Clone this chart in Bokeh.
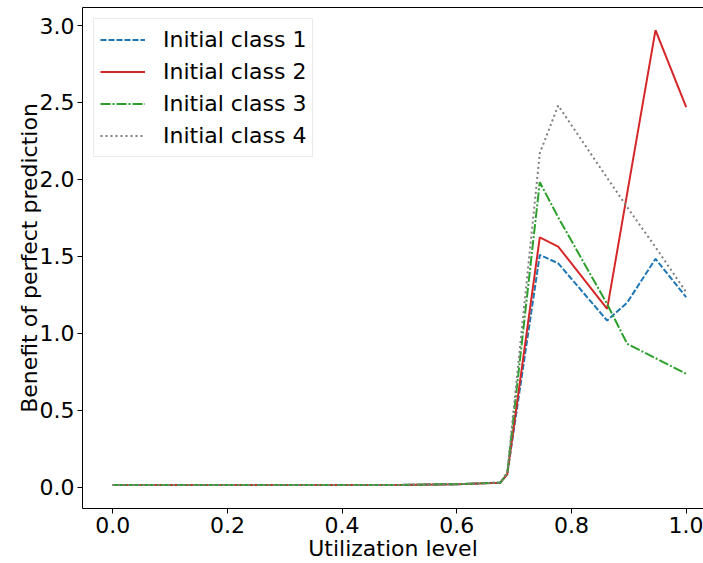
from bokeh.plotting import figure
from bokeh.models import FixedTicker, PrintfTickFormatter, LinearAxis, Range1d
from bokeh.embed import file_html
from bokeh.resources import INLINE

# Utilization levels at which the benefit was evaluated
utilization = [0.0, 0.1, 0.2, 0.3, 0.4, 0.5, 0.6, 0.676, 0.688,
               0.7447, 0.7768, 0.8622, 0.8971, 0.9465, 1.0]

# Benefit of perfect prediction for each initial class
class1 = [0.015, 0.015, 0.015, 0.015, 0.015, 0.015, 0.02, 0.03, 0.085,
          1.51, 1.455, 1.083, 1.20, 1.484, 1.235]
class2 = [0.015, 0.015, 0.015, 0.015, 0.015, 0.015, 0.02, 0.03, 0.085,
          1.624, 1.564, 1.159, 1.909, 2.97, 2.469]
class3 = [0.015, 0.015, 0.015, 0.015, 0.015, 0.015, 0.02, 0.03, 0.09,
          1.982, 1.754, 1.19, 0.932, 0.839, 0.737]
class4 = [0.015, 0.015, 0.015, 0.015, 0.015, 0.015, 0.02, 0.03, 0.10,
          2.17, 2.48, 2.01, 1.82, 1.56, 1.267]

x_ticks = [0.0, 0.2, 0.4, 0.6, 0.8, 1.0]
y_ticks = [0.0, 0.5, 1.0, 1.5, 2.0, 2.5, 3.0]

FONT = "DejaVu Sans"
SIZE = "22px"

p = figure(width=703, height=563, output_backend="svg", toolbar_location=None,
           x_range=Range1d(-0.0527, 1.0302), y_range=Range1d(-0.138, 3.117),
           min_border_left=82, min_border_right=0, min_border_top=7,
           min_border_bottom=54)
p.background_fill_color = "white"
p.border_fill_color = "white"
p.outline_line_color = None
p.xgrid.visible = False
p.ygrid.visible = False

series = [
    (class1, "Initial class 1", "#1f77b4", "6 2"),
    (class2, "Initial class 2", "#d62728", "solid"),
    (class3, "Initial class 3", "#2ca02c", "10 2 2 2"),
    (class4, "Initial class 4", "#7f7f7f", "2 3"),
]
for values, name, color, dash in series:
    p.line(utilization, values, line_color=color, line_width=2,
           line_dash=dash, legend_label=name)

bottom = p.below[0]
left = p.left[0]
for ax in (bottom, left):
    ax.axis_line_color = "black"
    ax.axis_line_width = 1
    ax.major_tick_line_color = "black"
    ax.major_tick_line_width = 1
    ax.major_tick_out = 5
    ax.major_tick_in = 0
    ax.minor_tick_line_color = None
    ax.major_label_text_font = FONT
    ax.major_label_text_font_size = SIZE
    ax.major_label_text_color = "black"
    ax.axis_label_text_font = FONT
    ax.axis_label_text_font_size = SIZE
    ax.axis_label_text_font_style = "normal"
    ax.axis_label_text_color = "black"
    ax.formatter = PrintfTickFormatter(format="%.1f")

bottom.ticker = FixedTicker(ticks=x_ticks)
left.ticker = FixedTicker(ticks=y_ticks)
bottom.axis_label = "Utilization level"
left.axis_label = "Benefit of perfect prediction"
bottom.major_label_standoff = 3
bottom.axis_label_standoff = 0
left.major_label_standoff = 3
left.axis_label_standoff = -5

# Top spine: an axis line without ticks or labels
top = LinearAxis(ticker=FixedTicker(ticks=[]), major_label_text_font_size="0px",
                 major_tick_line_color=None, minor_tick_line_color=None,
                 axis_line_color="black", axis_line_width=1)
p.add_layout(top, "above")

leg = p.legend[0]
leg.location = "top_left"
leg.margin = 11
leg.padding = 6
leg.spacing = 3
leg.glyph_width = 45
leg.glyph_height = 29
leg.label_standoff = 18
leg.label_text_font = FONT
leg.label_text_font_size = SIZE
leg.label_text_color = "black"
leg.border_line_color = "#d6d6d6"
leg.border_line_width = 1
leg.background_fill_color = "white"
leg.background_fill_alpha = 0.8

open("out.html", "w").write(file_html(p, INLINE))
